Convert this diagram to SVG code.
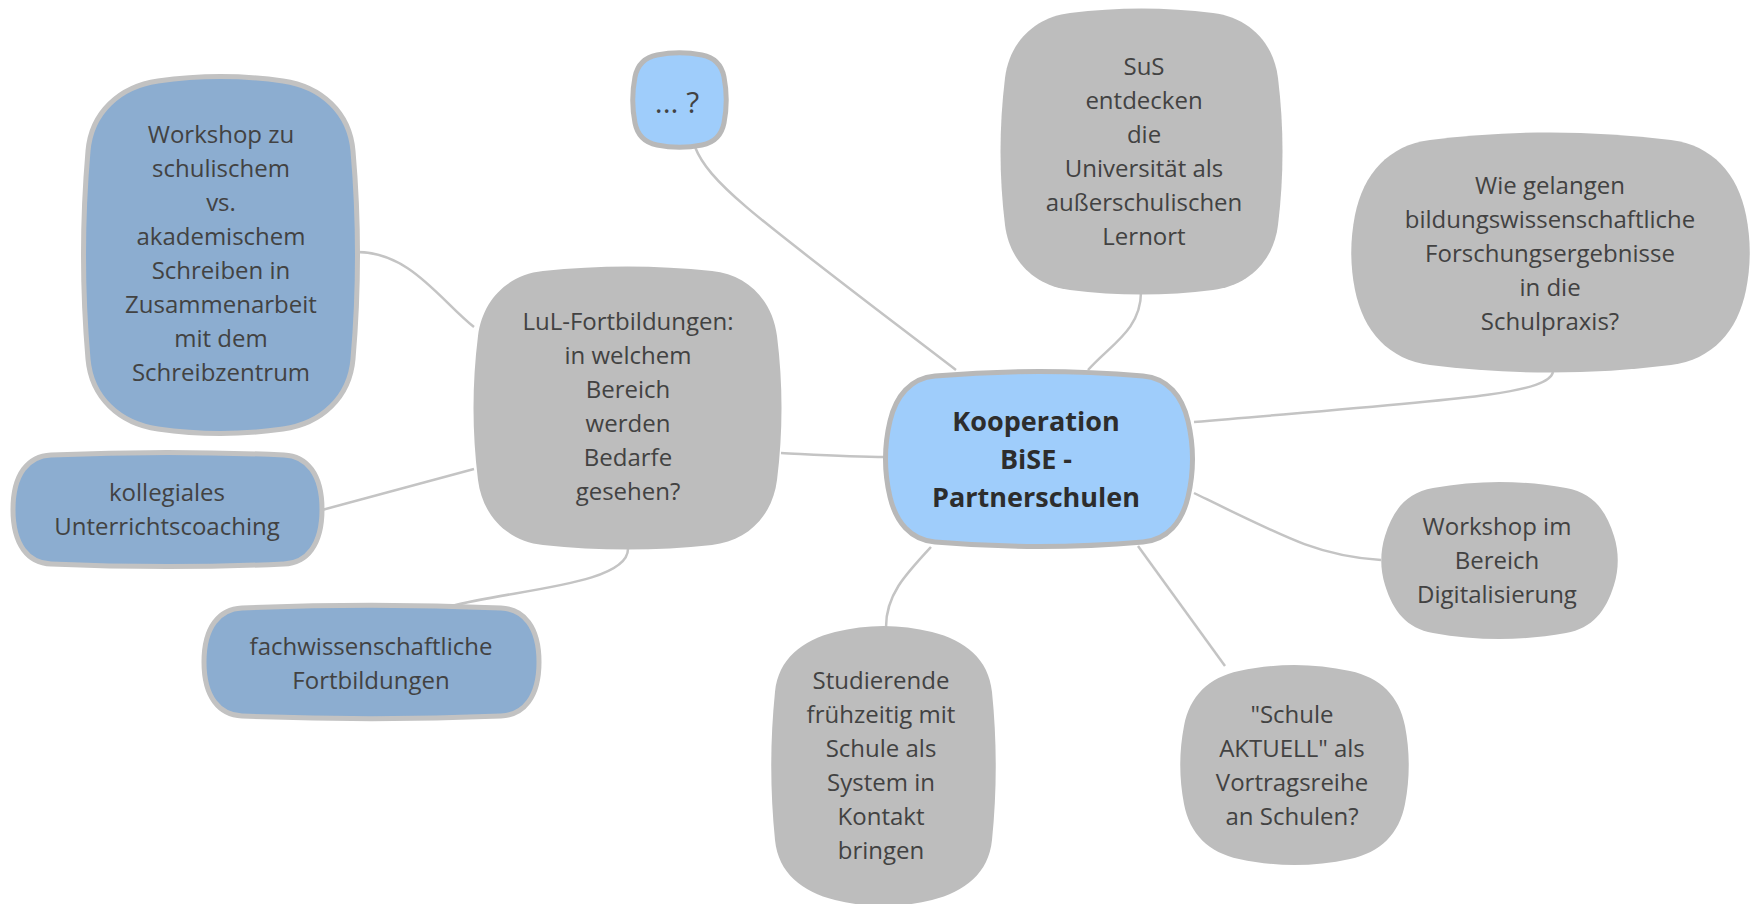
<svg xmlns="http://www.w3.org/2000/svg" width="1758" height="904" viewBox="0 0 1758 904">
<style>
.conn{fill:none;stroke:#c4c4c4;stroke-width:2.5}
.gray{fill:#bdbdbd;stroke:none}
.blue{fill:#8cadd0;stroke:#c2c2c2;stroke-width:5}
.light{fill:#9fcdfb;stroke:#b8b8b8;stroke-width:5}
text{font-family:"Open Sans","Noto Sans",sans-serif;font-size:24px;fill:#424242;text-anchor:middle}
.main{font-weight:bold;font-size:27px;fill:#2d2d2d}
.q{font-size:30px}
</style>
<rect width="1758" height="904" fill="#ffffff"/>
<g id="connectors">
<path class="conn" d="M695,147 C710,185 760,220 956,370"/>
<path class="conn" d="M1141,292 C1141,330 1110,345 1088,370"/>
<path class="conn" d="M1553,372 C1548,395 1450,400 1194,422"/>
<path class="conn" d="M1194,493 C1290,540 1320,556 1381,560"/>
<path class="conn" d="M1138,546 L1225,666"/>
<path class="conn" d="M931,547 C905,575 886,595 886,627"/>
<path class="conn" d="M781,453 C820,455 850,457 886,457"/>
<path class="conn" d="M474,327 C440,300 410,252 357,252"/>
<path class="conn" d="M474,469 L322,510"/>
<path class="conn" d="M628,549 C628,585 510,590 452,606"/>
</g>
<g id="node-q">
<path class="light" d="M657,55 C672,52 687,52 702,55 C714.1,57.4 721.6,64.9 724,77 C727,92.3 727,107.7 724,123 C721.6,135.1 714.1,142.6 702,145 C687,148 672,148 657,145 C644.9,142.6 637.4,135.1 635,123 C632,107.7 632,92.3 635,77 C637.4,64.9 644.9,57.4 657,55Z"/>
<text class="q" x="677" y="113">... ?</text>
</g>
<g id="node-workshop-schreiben">
<path class="blue" d="M158,81 C199.7,75 241.3,75 283,81 C321.5,86.5 349.7,112.5 353,151 C359,220.3 359,289.7 353,359 C349.7,397.5 321.5,423.5 283,429 C241.3,435 199.7,435 158,429 C119.5,423.5 91.3,397.5 88,359 C82,289.7 82,220.3 88,151 C91.3,112.5 119.5,86.5 158,81Z"/>
<text><tspan x="221" y="143">Workshop zu</tspan><tspan x="221" y="177">schulischem</tspan><tspan x="221" y="211">vs.</tspan><tspan x="221" y="245">akademischem</tspan><tspan x="221" y="279">Schreiben in</tspan><tspan x="221" y="313">Zusammenarbeit</tspan><tspan x="221" y="347">mit dem</tspan><tspan x="221" y="381">Schreibzentrum</tspan></text>
</g>
<g id="node-lul">
<path class="gray" d="M543,271 C599.3,265 655.7,265 712,271 C747.75,274.8 772.5,300.25 777,336 C783,384 783,432 777,480 C772.5,515.75 747.75,541.2 712,545 C655.7,551 599.3,551 543,545 C507.25,541.2 482.5,515.75 478,480 C472,432 472,384 478,336 C482.5,300.25 507.25,274.8 543,271Z"/>
<text><tspan x="628" y="330">LuL-Fortbildungen:</tspan><tspan x="628" y="364">in welchem</tspan><tspan x="628" y="398">Bereich</tspan><tspan x="628" y="432">werden</tspan><tspan x="628" y="466">Bedarfe</tspan><tspan x="628" y="500">gesehen?</tspan></text>
</g>
<g id="node-kollegiales">
<path class="blue" d="M51,455 C128.7,451.5 206.3,451.5 284,455 C306.8,456 322,474.1 322,509.5 C322,544.9 306.8,563 284,564 C206.3,567.5 128.7,567.5 51,564 C28.2,563 13,544.9 13,509.5 C13,474.1 28.2,456 51,455Z"/>
<text><tspan x="167" y="501">kollegiales</tspan><tspan x="167" y="535">Unterrichtscoaching</tspan></text>
</g>
<g id="node-fachwiss">
<path class="blue" d="M242,608 C328.3,604.5 414.7,604.5 501,608 C523.8,609 539,626.9 539,662 C539,697.1 523.8,715 501,716 C414.7,719.5 328.3,719.5 242,716 C219.2,715 204,697.1 204,662 C204,626.9 219.2,609 242,608Z"/>
<text><tspan x="371" y="655">fachwissenschaftliche</tspan><tspan x="371" y="689">Fortbildungen</tspan></text>
</g>
<g id="node-center">
<path class="light" d="M935,376 C1004.3,370 1073.7,370 1143,376 C1167.75,378.1 1182.1,396.25 1188,421 C1194,446.3 1194,471.7 1188,497 C1182.1,521.75 1167.75,539.9 1143,542 C1073.7,548 1004.3,548 935,542 C910.25,539.9 895.9,521.75 890,497 C884,471.7 884,446.3 890,421 C895.9,396.25 910.25,378.1 935,376Z"/>
<text class="main"><tspan x="1036" y="431">Kooperation</tspan><tspan x="1036" y="469">BiSE -</tspan><tspan x="1036" y="507">Partnerschulen</tspan></text>
</g>
<g id="node-sus">
<path class="gray" d="M1070,13 C1117.7,7 1165.3,7 1213,13 C1248.75,17.5 1273.6,42.25 1278,78 C1284,127 1284,176 1278,225 C1273.6,260.75 1248.75,285.5 1213,290 C1165.3,296 1117.7,296 1070,290 C1034.25,285.5 1009.4,260.75 1005,225 C999,176 999,127 1005,78 C1009.4,42.25 1034.25,17.5 1070,13Z"/>
<text><tspan x="1144" y="75">SuS</tspan><tspan x="1144" y="109">entdecken</tspan><tspan x="1144" y="143">die</tspan><tspan x="1144" y="177">Universität als</tspan><tspan x="1144" y="211">außerschulischen</tspan><tspan x="1144" y="245">Lernort</tspan></text>
</g>
<g id="node-wie">
<path class="gray" d="M1430,140 C1510.3,130 1590.7,130 1671,140 C1712.25,145.2 1737.75,173.75 1746,215 C1751,240 1751,265 1746,290 C1737.75,331.25 1712.25,359.8 1671,365 C1590.7,375 1510.3,375 1430,365 C1388.75,359.8 1363.25,331.25 1355,290 C1350,265 1350,240 1355,215 C1363.25,173.75 1388.75,145.2 1430,140Z"/>
<text><tspan x="1550" y="194">Wie gelangen</tspan><tspan x="1550" y="228">bildungswissenschaftliche</tspan><tspan x="1550" y="262">Forschungsergebnisse</tspan><tspan x="1550" y="296">in die</tspan><tspan x="1550" y="330">Schulpraxis?</tspan></text>
</g>
<g id="node-digital">
<path class="gray" d="M1433,488 C1477.3,480 1521.7,480 1566,488 C1592.4,492.75 1605.9,509.6 1614,536 C1619,552.3 1619,568.7 1614,585 C1605.9,611.4 1592.4,628.25 1566,633 C1521.7,641 1477.3,641 1433,633 C1406.6,628.25 1393.1,611.4 1385,585 C1380,568.7 1380,552.3 1385,536 C1393.1,509.6 1406.6,492.75 1433,488Z"/>
<text><tspan x="1497" y="535">Workshop im</tspan><tspan x="1497" y="569">Bereich</tspan><tspan x="1497" y="603">Digitalisierung</tspan></text>
</g>
<g id="node-aktuell">
<path class="gray" d="M1239,671 C1276,663 1313,663 1350,671 C1380.25,677.5 1399.2,695.75 1405,726 C1410,752 1410,778 1405,804 C1399.2,834.25 1380.25,852.5 1350,859 C1313,867 1276,867 1239,859 C1208.75,852.5 1189.8,834.25 1184,804 C1179,778 1179,752 1184,726 C1189.8,695.75 1208.75,677.5 1239,671Z"/>
<text><tspan x="1292" y="723">"Schule</tspan><tspan x="1292" y="757">AKTUELL" als</tspan><tspan x="1292" y="791">Vortragsreihe</tspan><tspan x="1292" y="825">an Schulen?</tspan></text>
</g>
<g id="node-studierende">
<path class="gray" d="M835,632 C867.3,624 899.7,624 932,632 C965,640.2 988.7,659 992,692 C997,741.3 997,790.7 992,840 C988.7,873 965,891.8 932,900 C899.7,908 867.3,908 835,900 C802,891.8 778.3,873 775,840 C770,790.7 770,741.3 775,692 C778.3,659 802,640.2 835,632Z"/>
<text><tspan x="881" y="689">Studierende</tspan><tspan x="881" y="723">frühzeitig mit</tspan><tspan x="881" y="757">Schule als</tspan><tspan x="881" y="791">System in</tspan><tspan x="881" y="825">Kontakt</tspan><tspan x="881" y="859">bringen</tspan></text>
</g>
</svg>
